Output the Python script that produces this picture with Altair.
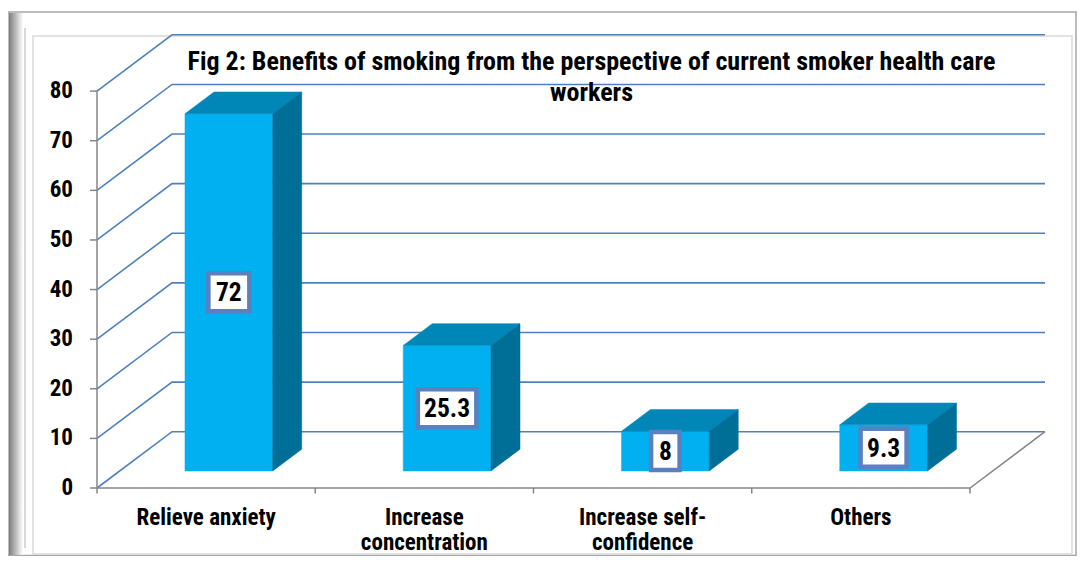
import altair as alt
import pandas as pd

# ---- data ----
categories = ["Relieve anxiety", "Increase\nconcentration", "Increase self-\nconfidence", "Others"]
values = [72, 25.3, 8, 9.3]
value_labels = ["72", "25.3", "8", "9.3"]
y_ticks = [0, 10, 20, 30, 40, 50, 60, 70, 80]
title_lines = [
    "Fig 2: Benefits of smoking from the perspective of current smoker health care",
    "workers",
]

# ---- layout / style constants ----
FONT = "Liberation Sans Narrow, Arial Narrow, Noto Sans Condensed, Roboto Condensed, DejaVu Sans Condensed, sans-serif"
PX_X = 218.25          # pixels per category slot
PX_Y = 4.961           # pixels per value unit
DX = 75 / PX_X         # depth offset in category units
DY = 56.3 / PX_Y       # depth offset in value units
N = len(categories)
W = (N + DX) * PX_X
H = 454
YMAX = H / PX_Y
BAR_W = 0.402
D0, D1 = 0.303, 0.69
SHIFT = (D1 - D0) * DX
TICK_X = 7 / PX_X
TICK_Y = 5.5 / PX_Y

FRONT = "#00B0F0"
TOP = "#0087B8"
SIDE = "#006F98"
GRID = "#4F81BD"
AXIS = "#868686"

xs = alt.Scale(domain=[0, N + DX], nice=False, zero=False)
ys = alt.Scale(domain=[0, YMAX], nice=False, zero=False)

# ---- derived tables ----
grid_rows = []
for v in y_ticks:
    grid_rows += [
        {"g": v, "x": 0, "y": v},
        {"g": v, "x": DX, "y": v + DY},
        {"g": v, "x": N + DX, "y": v + DY},
    ]
grid_df = pd.DataFrame(grid_rows)

floor_df = pd.DataFrame([
    {"x": 0, "y": 0}, {"x": N, "y": 0}, {"x": N + DX, "y": DY}
])
xtick_df = pd.DataFrame({"x": list(range(N + 1)), "y": [0] * (N + 1), "y2": [-TICK_Y] * (N + 1)})
ytick_df = pd.DataFrame({"y": y_ticks, "x": [0] * len(y_ticks), "x2": [-TICK_X] * len(y_ticks),
                         "label": [str(v) for v in y_ticks]})
yaxis_df = pd.DataFrame({"x": [0], "y": [0], "y2": [max(y_ticks)]})
xlab_df = pd.DataFrame({"x": [i + 0.5 for i in range(N)], "y": [0] * N, "label": categories})

front_rows, top_rows, side_rows, lab_rows = [], [], [], []
for i, (c, v, t) in enumerate(zip(categories, values, value_labels)):
    xl = i + 0.5 - BAR_W / 2 + D0 * DX
    xr = xl + BAR_W
    front_rows.append({"cat": c, "x": xl, "x2": xr, "y": D0 * DY, "y2": v + D0 * DY})
    top_rows += [
        {"cat": c, "y": v + D0 * DY, "x": xl, "x2": xr},
        {"cat": c, "y": v + D1 * DY, "x": xl + SHIFT, "x2": xr + SHIFT},
    ]
    side_rows += [
        {"cat": c, "x": xr, "y": D0 * DY, "y2": v + D0 * DY},
        {"cat": c, "x": xr + SHIFT, "y": D1 * DY, "y2": v + D1 * DY},
    ]
    ndig = sum(ch.isdigit() for ch in t)
    ndot = t.count(".")
    wpx = 20 + 12.5 * ndig + 5 * ndot - 4
    hpx = 38
    xc = (xl + xr) / 2
    yc = D0 * DY + v / 2
    lab_rows.append({
        "cat": c, "text": t, "xc": xc, "yc": yc,
        "bx": xc - wpx / 2 / PX_X, "bx2": xc + wpx / 2 / PX_X,
        "by": yc - hpx / 2 / PX_Y, "by2": yc + hpx / 2 / PX_Y,
    })
front_df = pd.DataFrame(front_rows)
top_df = pd.DataFrame(top_rows)
side_df = pd.DataFrame(side_rows)
lab_df = pd.DataFrame(lab_rows)

one = pd.DataFrame({"a": [0]})


def X(f):
    return alt.X(f, scale=xs, axis=None)


def Y(f):
    return alt.Y(f, scale=ys, axis=None)


# ---- frame decoration (plot-relative pixels) ----
outer = alt.Chart(one).mark_rect(fill="white", stroke="#a6a6a6", strokeWidth=1.5).encode(
    x=alt.value(-89), x2=alt.value(979), y=alt.value(-22), y2=alt.value(521.5))
band = alt.Chart(one).mark_rect(
    fill=alt.LinearGradient(gradient="linear", stops=[
        alt.GradientStop(color="#7d7d7d", offset=0),
        alt.GradientStop(color="#ffffff", offset=1)], x1=0, x2=1, y1=0, y2=0),
).encode(x=alt.value(-88), x2=alt.value(-74), y=alt.value(-21), y2=alt.value(521))
thin = alt.Chart(one).mark_rule(color="#cccccc", strokeWidth=1.5).encode(
    x=alt.value(-72), y=alt.value(-6), y2=alt.value(514))
inner = alt.Chart(one).mark_rect(fill="white", stroke="#d9d9d9", strokeWidth=1.5).encode(
    x=alt.value(-64), x2=alt.value(975), y=alt.value(2), y2=alt.value(520))

# ---- chart layers ----
grid = alt.Chart(grid_df).mark_line(color=GRID, strokeWidth=1.6).encode(
    x=X("x:Q"), y=Y("y:Q"), detail="g:N", order="x:Q")
floor = alt.Chart(floor_df).mark_line(color=AXIS, strokeWidth=1.5).encode(
    x=X("x:Q"), y=Y("y:Q"), order="x:Q")
xticks = alt.Chart(xtick_df).mark_rule(color=AXIS, strokeWidth=1.5).encode(
    x=X("x:Q"), y=Y("y:Q"), y2="y2:Q")
yticks = alt.Chart(ytick_df).mark_rule(color=AXIS, strokeWidth=1.5).encode(
    x=X("x:Q"), x2="x2:Q", y=Y("y:Q"))
yline = alt.Chart(yaxis_df).mark_rule(color=AXIS, strokeWidth=1.5).encode(
    x=X("x:Q"), y=Y("y:Q"), y2="y2:Q")
ylabels = alt.Chart(ytick_df).mark_text(
    font=FONT, fontSize=23, fontWeight="bold", color="black", align="right",
    baseline="middle", dx=-24).encode(x=X("x:Q"), y=Y("y:Q"), text="label:N")
xlabels = alt.Chart(xlab_df).mark_text(
    font=FONT, fontSize=23, fontWeight="bold", color="black", align="center",
    baseline="top", dy=19, lineBreak="\n", lineHeight=25).encode(
    x=X("x:Q"), y=Y("y:Q"), text="label:N")

front = alt.Chart(front_df).mark_rect(color=FRONT, stroke=FRONT, strokeWidth=0.5).encode(
    x=X("x:Q"), x2="x2:Q", y=Y("y:Q"), y2="y2:Q")
top = alt.Chart(top_df).mark_area(orient="horizontal", color=TOP, stroke=TOP, strokeWidth=0.5).encode(
    y=Y("y:Q"), x=X("x:Q"), x2="x2:Q", detail="cat:N")
side = alt.Chart(side_df).mark_area(orient="vertical", color=SIDE, stroke=SIDE, strokeWidth=0.5).encode(
    x=X("x:Q"), y=Y("y:Q"), y2="y2:Q", detail="cat:N")

boxes = alt.Chart(lab_df).mark_rect(fill="white", stroke="#5A80BF", strokeWidth=4.5).encode(
    x=X("bx:Q"), x2="bx2:Q", y=Y("by:Q"), y2="by2:Q")
texts = alt.Chart(lab_df).mark_text(
    font=FONT, fontSize=25.5, fontWeight="bold", color="black", baseline="middle", align="center", dy=1
).encode(x=X("xc:Q"), y=Y("yc:Q"), text="text:N")

title = alt.Chart(one).mark_text(
    text=title_lines, font=FONT, fontSize=26, fontWeight="bold", color="black",
    baseline="middle", align="center", lineHeight=31,
).encode(x=alt.value(494.5), y=alt.value(28))

chart = alt.layer(
    outer, band, thin, inner, grid, floor, xticks, yticks, yline, ylabels, xlabels,
    front, top, side, boxes, texts, title
).properties(
    width=W, height=H,
    padding={"left": 89, "top": 26, "right": 1069 - 89 - W, "bottom": 548 - 26 - H},
    autosize=alt.AutoSizeParams(type="none"),
).configure_view(stroke=None)

chart.save("out.html", embed_options={"renderer": "svg", "actions": False})
